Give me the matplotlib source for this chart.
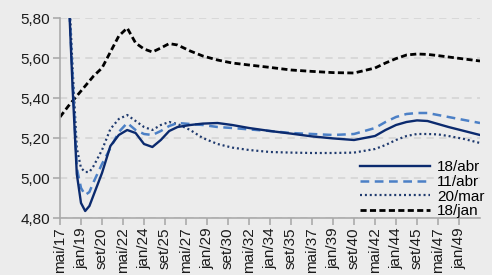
import numpy as np
import matplotlib
matplotlib.use("Agg")
from matplotlib import pyplot as plt
from matplotlib.transforms import ScaledTranslation

plt.rcParams['font.family'] = ['Liberation Sans', 'DejaVu Sans']

# months counted from mai/2017
meses = [0, 8, 12, 16, 20, 24, 28, 32, 40, 48, 56, 64, 72, 80, 88, 96, 104, 112, 124, 136, 150,
         164, 180, 200, 220, 240, 260, 280, 300, 310, 320, 330, 340, 350, 360, 370, 385, 400]

abr18 = [6.60, 5.95, 5.45, 5.02, 4.875, 4.835, 4.86, 4.915, 5.025, 5.16, 5.215, 5.24, 5.225,
         5.17, 5.155, 5.19, 5.235, 5.255, 5.265, 5.272, 5.275, 5.265, 5.25, 5.235, 5.222,
         5.208, 5.198, 5.19, 5.21, 5.24, 5.265, 5.28, 5.288, 5.285, 5.27, 5.255, 5.235, 5.215]
abr11 = [6.60, 5.95, 5.50, 5.05, 4.95, 4.915, 4.93, 4.98, 5.07, 5.15, 5.23, 5.275, 5.24,
         5.22, 5.215, 5.235, 5.26, 5.275, 5.27, 5.265, 5.255, 5.25, 5.243, 5.235, 5.225,
         5.22, 5.215, 5.22, 5.25, 5.28, 5.305, 5.32, 5.325, 5.325, 5.315, 5.305, 5.29, 5.275]
mar20 = [6.60, 6.00, 5.55, 5.15, 5.05, 5.03, 5.03, 5.06, 5.14, 5.245, 5.295, 5.315, 5.285,
         5.255, 5.24, 5.265, 5.28, 5.27, 5.24, 5.20, 5.17, 5.152, 5.14, 5.13, 5.127,
         5.125, 5.125, 5.127, 5.145, 5.165, 5.19, 5.21, 5.22, 5.22, 5.218, 5.21, 5.195, 5.175]
jan18 = [5.305, 5.36, 5.385, 5.41, 5.435, 5.46, 5.485, 5.51, 5.55, 5.63, 5.71, 5.75, 5.675,
         5.645, 5.63, 5.65, 5.672, 5.665, 5.635, 5.61, 5.59, 5.575, 5.565, 5.553, 5.54,
         5.533, 5.527, 5.525, 5.55, 5.575, 5.597, 5.615, 5.62, 5.618, 5.612, 5.605, 5.595, 5.585]

rotulos = ['mai/17', 'jan/19', 'set/20', 'mai/22', 'jan/24', 'set/25', 'mai/27',
           'jan/29', 'set/30', 'mai/32', 'jan/34', 'set/35', 'mai/37', 'jan/39',
           'set/40', 'mai/42', 'jan/44', 'set/45', 'mai/47', 'jan/49']
pos_rotulos = np.arange(len(rotulos)) * 20

bg = '#ECECEC'
fig = plt.figure(figsize=(4.92, 2.75), dpi=100, facecolor=bg)
ax = fig.add_axes([60/492, 57/275, 420/492, 200/275], facecolor=bg)

ax.plot(meses, abr18, color='#0B2A6E', lw=1.7, label='18/abr', zorder=5)
ax.plot(meses, abr11, color='#4C80C6', lw=1.8, ls=(0, (3.5, 2.2)), label='11/abr', zorder=4)
ax.plot(meses, mar20, color='#1F3A6E', lw=1.6, ls=(0, (0.9, 1.3)), label='20/mar', zorder=3)
ax.plot(meses, jan18, color='black', lw=2.0, ls=(0, (2.2, 1.2)), label='18/jan', zorder=2)

ax.set_xlim(0, 400)
ax.set_ylim(4.80, 5.80)
yt = np.arange(4.8, 5.81, 0.2)
ax.set_yticks(yt)
ax.set_yticklabels([('%.2f' % v).replace('.', ',') for v in yt], fontsize=11)
ax.set_xticks(pos_rotulos)
ax.set_xticklabels(rotulos, rotation=90, fontsize=11)
for lb in ax.get_xticklabels():
    lb.set_transform(lb.get_transform() + ScaledTranslation(3/100, 0, fig.dpi_scale_trans))

ax.grid(axis='y', color='#D6D6D6', lw=1.3, ls=(0, (4, 3)))
ax.set_axisbelow(True)
for s in ['top', 'right']:
    ax.spines[s].set_visible(False)
for s in ['left', 'bottom']:
    ax.spines[s].set_color('#AAAAAA')
    ax.spines[s].set_linewidth(1.2)
ax.tick_params(axis='both', colors='#AAAAAA', labelcolor='#1A1A1A', length=5, width=1.2, pad=2)

ax.legend(loc='lower right', bbox_to_anchor=(1.0 + 6/420, -2/200), frameon=False, fontsize=11,
          handlelength=4.6, handletextpad=0.45, labelspacing=0.05,
          borderpad=0, borderaxespad=0.1)

fig.savefig('out.png', dpi=100, facecolor=bg)
